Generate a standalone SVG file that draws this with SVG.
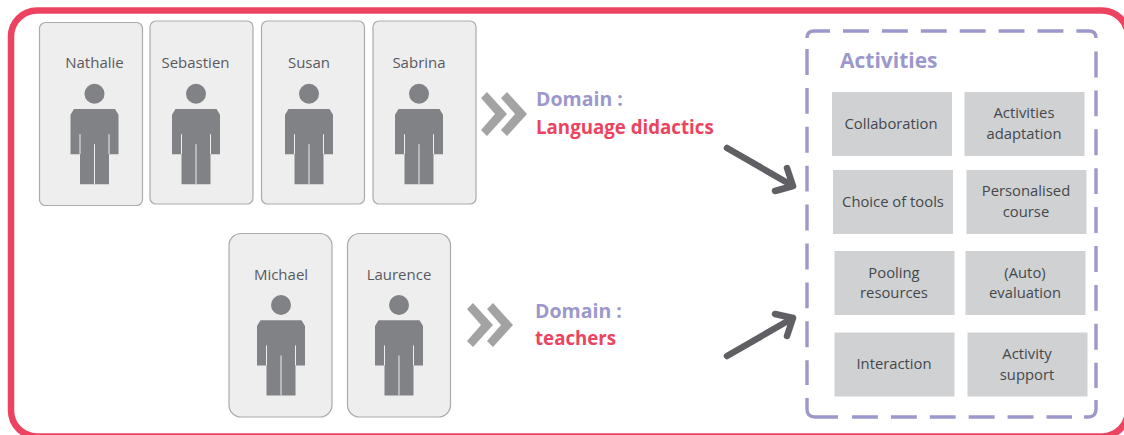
<svg xmlns="http://www.w3.org/2000/svg" width="1124" height="435" viewBox="0 0 1124 435">
<style>
text{font-family:"Open Sans","Noto Sans","Liberation Sans",sans-serif}
.p{fill:#eeeeef;stroke:#a9abad;stroke-width:1.2}
.n{font-size:15px;fill:#595a5e;text-anchor:middle}
.b{fill:#cfd1d3}
.l{font-size:14.8px;fill:#45484b;text-anchor:middle}
.d{font-size:19.5px;font-weight:700;fill:#9c98cb}
.r{font-size:18.7px;font-weight:700;fill:#ec4460}
.c{fill:#a3a3a3}
.a{fill:none;stroke:#5f5f64;stroke-width:6.500;stroke-linecap:round;stroke-linejoin:round}
.f{fill:none;stroke:#9c98cb;stroke-width:3.400}
.s{stroke-dasharray:25.900 13}
.g{stroke:#eeeeef;stroke-width:1;fill:none}
</style>
<defs>
<g id="man">
<circle cx="0" cy="0" r="10" fill="#808285"/>
<path d="M-24 21 L-20.500 15.300 H20.500 L24 21 V60.500 H14.500 V90.500 H-14.500 V60.500 H-24 Z" fill="#808285"/>
<path class="g" d="M-14.500 40.500 V60.500 M14.500 40.500 V60.500 M0 50.500 V90.500"/>
</g>
<polygon id="chev" points="0,0 20,22 0,44 -6,38 8,22 -6,6"/>
</defs>
<rect x="11" y="10.500" width="1117" height="426" rx="26" fill="#fff" stroke="#ec4460" stroke-width="6.500"/>
<g id="nathalie"><rect class="p" x="39.500" y="22.500" width="103" height="183" rx="6"/><text class="n" x="94.500" y="68">Nathalie</text><use href="#man" x="94.500" y="93.700"/></g>
<g id="sebastien"><rect class="p" x="150" y="21" width="103" height="183" rx="6"/><text class="n" x="195.500" y="68">Sebastien</text><use href="#man" x="196" y="93.700"/></g>
<g id="susan"><rect class="p" x="261.500" y="21" width="103" height="183" rx="6"/><text class="n" x="309" y="68">Susan</text><use href="#man" x="309" y="93.700"/></g>
<g id="sabrina"><rect class="p" x="373" y="21" width="103" height="183" rx="6"/><text class="n" x="419" y="68">Sabrina</text><use href="#man" x="419" y="93.700"/></g>
<g id="michael"><rect class="p" x="229" y="233.500" width="103" height="183.500" rx="12"/><text class="n" x="281" y="280">Michael</text><use href="#man" x="281" y="305"/></g>
<g id="laurence"><rect class="p" x="347.500" y="233.500" width="103" height="183.500" rx="12"/><text class="n" x="399" y="280">Laurence</text><use href="#man" x="399" y="305"/></g>
<g id="domain-1"><text class="d" x="536" y="106">Domain :</text><text class="r" x="536" y="134">Language didactics</text></g>
<g id="domain-2"><text class="d" x="535" y="318">Domain :</text><text class="r" x="535" y="345">teachers</text></g>
<g id="activities">
<path class="f" d="M807 38 Q807 31 814 31 H830"/>
<path class="f s" d="M843 31 H1089 Q1096 31 1096 38"/>
<path class="f s" d="M1096 51.500 V388"/>
<path class="f" d="M1084 417 H1088 Q1096 417 1096 409 V400"/>
<path class="f s" d="M852 417 H1072"/>
<path class="f" d="M807 398 V409 Q807 417 815 417 H838"/>
<path class="f s" d="M807 49 V385"/>
<text x="840" y="67.500" font-size="21" font-weight="700" fill="#9c98cb">Activities</text>
</g>
<g id="a1"><rect class="b" x="832" y="92" width="120" height="64"/><text class="l" x="891" y="129">Collaboration</text></g>
<g id="a2"><rect class="b" x="964.500" y="92" width="120" height="64"/><text class="l" x="1024" y="118">Activities</text><text class="l" x="1024" y="139">adaptation</text></g>
<g id="a3"><rect class="b" x="833" y="170" width="120" height="64"/><text class="l" x="893" y="207">Choice of tools</text></g>
<g id="a4"><rect class="b" x="966.500" y="170" width="120" height="64"/><text class="l" x="1026" y="196">Personalised</text><text class="l" x="1026" y="217">course</text></g>
<g id="a5"><rect class="b" x="834.500" y="251" width="120" height="64"/><text class="l" x="894" y="278">Pooling</text><text class="l" x="894" y="298">resources</text></g>
<g id="a6"><rect class="b" x="965.500" y="251" width="120" height="64"/><text class="l" x="1025" y="278">(Auto)</text><text class="l" x="1025" y="298">evaluation</text></g>
<g id="a7"><rect class="b" x="834.500" y="332.500" width="120" height="64"/><text class="l" x="894" y="369">Interaction</text></g>
<g id="a8"><rect class="b" x="967.500" y="332.500" width="120" height="64"/><text class="l" x="1027" y="359">Activity</text><text class="l" x="1027" y="380">support</text></g>
<g id="connectors">
<use class="c" href="#chev" x="487" y="92"/><use class="c" href="#chev" x="507" y="92"/>
<use class="c" href="#chev" x="473" y="303"/><use class="c" href="#chev" x="493" y="303"/>
<path class="a" d="M727 148 L793 186 M787 168 L793 186 L775 191"/>
<path class="a" d="M727 356 L793 318 M775 314 L793 318 L787 336"/>
</g>
</svg>
